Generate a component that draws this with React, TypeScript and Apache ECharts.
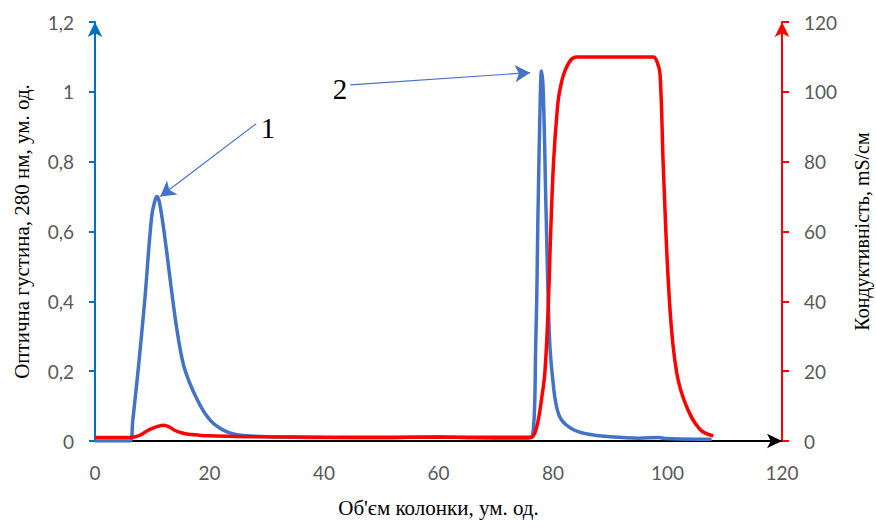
import React, { useEffect, useRef } from "react";
import * as echarts from "echarts";

// Column volume (x) and optical density at 280 nm (left axis)
const blueX = [0, 5, 6.1, 6.6, 7.0, 7.6, 8.7, 9.9, 10.5, 10.8, 11.3, 12.3, 13.3, 14.3, 15.4, 16.5, 17.8, 19, 20, 21, 22.4, 24, 26, 30, 40, 50, 60, 65, 70, 75, 76.3, 77.0, 77.4, 77.8, 78.0, 78.3, 78.8, 79.4, 80.0, 80.6, 81.5, 83.5, 86, 90, 95, 98.5, 99.5, 105, 107.7];
const blueY = [0, 0, 0, 0.06, 0.12, 0.214, 0.405, 0.643, 0.69, 0.7, 0.68, 0.57, 0.44, 0.32, 0.222, 0.168, 0.12, 0.084, 0.062, 0.046, 0.031, 0.021, 0.016, 0.012, 0.01, 0.009, 0.012, 0.009, 0.008, 0.008, 0.01, 0.29, 0.67, 1.0, 1.06, 1.0, 0.65, 0.29, 0.17, 0.1, 0.06, 0.033, 0.02, 0.012, 0.008, 0.01, 0.007, 0.005, 0.005];

// Column volume (x) and conductivity, mS/cm (right axis)
const redX = [0, 6, 7, 8, 9, 10, 11, 12, 13, 14, 15, 16, 18, 20, 25, 30, 40, 60, 76, 76.5, 77.3, 78.0, 78.6, 79.2, 79.6, 80.1, 80.7, 81.2, 82.4, 84.1, 90, 97.5, 98.2, 98.7, 99.3, 100.4, 101.6, 103.3, 105.7, 108];
const redY = [1, 1, 1.2, 1.8, 2.8, 3.6, 4.2, 4.5, 4.0, 3.0, 2.4, 2.0, 1.7, 1.5, 1.3, 1.2, 1.1, 1.1, 1.1, 1.3, 5, 12, 20, 40, 60, 80, 94, 100.5, 107.2, 110, 110, 110, 108.5, 105, 77, 38.6, 19.6, 10, 3.3, 1.5];

const xTicks = { min: 0, max: 120, interval: 20 };
const leftTicks = { min: 0, max: 1.2, interval: 0.2 };
const rightTicks = { min: 0, max: 120, interval: 20 };

const xTitle = "Об'єм колонки, ум. од.";
const leftTitle = "Оптична густина, 280 нм, ум. од.";
const rightTitle = "Кондуктивність, mS/см";

// Annotation anchors (data coords): label position, arrow start, arrow tip
const ann1 = { text: "1", label: [30.2, 0.895], start: [28.1, 0.908], tip: [11.4, 0.7] };
const ann2 = { text: "2", label: [42.8, 1.007], start: [44.6, 1.02], tip: [76.0, 1.055] };

const labelFont = { color: "#595959", fontSize: 19, fontFamily: "Lato" };
const titleFont = { color: "#000", fontSize: 21, fontFamily: "Liberation Serif" };

function zip(xs: number[], ys: number[]) {
  return xs.map((x, i) => [x, ys[i]]);
}

const fmtComma = (v: number) => String(parseFloat(v.toFixed(2))).replace(".", ",");

export default function App() {
  const ref = useRef<HTMLDivElement>(null);
  useEffect(() => {
    document.body.style.margin = "0";
    const chart = echarts.init(ref.current!, null, { renderer: "svg" });
    const annText = (a: any) => ({
      coord: a.label,
      symbol: "circle",
      symbolSize: 0,
      label: { show: true, position: "inside", formatter: a.text, color: "#000", fontSize: 29, fontFamily: "Liberation Serif" },
    });
    const annLine = (a: any) => [
      { coord: a.start, symbol: "none" },
      { coord: a.tip, symbol: "arrow", symbolSize: [13, 15] },
    ];
    chart.setOption({
      animation: false,
      grid: { left: 95, right: 94, top: 22, bottom: 81, containLabel: false, outerBoundsMode: "none" },
      xAxis: {
        type: "value",
        ...xTicks,
        axisLine: { show: true, onZero: false, lineStyle: { color: "#000", width: 2 }, symbol: ["none", "arrow"], symbolSize: [11, 15] },
        axisTick: { show: false },
        splitLine: { show: false },
        axisLabel: { ...labelFont, margin: 22 },
        name: xTitle,
        nameLocation: "middle",
        nameGap: 56,
        nameTextStyle: titleFont,
      },
      yAxis: [
        {
          type: "value",
          ...leftTicks,
          position: "left",
          axisLine: { show: true, lineStyle: { color: "#0070C0", width: 2 }, symbol: ["none", "arrow"], symbolSize: [11, 15] },
          axisTick: { show: true, inside: false, length: 6, lineStyle: { color: "#0070C0", width: 2 } },
          splitLine: { show: false },
          axisLabel: { ...labelFont, margin: 21, formatter: fmtComma },
          name: leftTitle,
          nameLocation: "middle",
          nameGap: 63,
          nameRotate: 90,
          nameTextStyle: titleFont,
        },
        {
          type: "value",
          ...rightTicks,
          position: "right",
          axisLine: { show: true, lineStyle: { color: "#FF0000", width: 2 }, symbol: ["none", "arrow"], symbolSize: [11, 15] },
          axisTick: { show: true, inside: false, length: 7, lineStyle: { color: "#FF0000", width: 2 } },
          splitLine: { show: false },
          axisLabel: { ...labelFont, margin: 22 },
          name: rightTitle,
          nameLocation: "middle",
          nameGap: 70,
          nameRotate: 90,
          nameTextStyle: { ...titleFont, fontSize: 20 },
        },
      ],
      series: [
        {
          type: "line",
          yAxisIndex: 0,
          data: zip(blueX, blueY),
          smooth: 0.4,
          showSymbol: false,
          lineStyle: { color: "#4472C4", width: 3.5 },
          z: 2,
          markLine: {
            silent: true,
            lineStyle: { color: "#4472C4", width: 1.2, type: "solid" },
            label: { show: false },
            data: [annLine(ann1), annLine(ann2)],
          },
          markPoint: { silent: true, data: [annText(ann1), annText(ann2)] },
        },
        {
          type: "line",
          yAxisIndex: 1,
          data: zip(redX, redY),
          smooth: 0.4,
          showSymbol: false,
          lineStyle: { color: "#FF0000", width: 3.5 },
          z: 3,
        },
      ],
    });
    return () => chart.dispose();
  }, []);
  return <div ref={ref} style={{ width: 876, height: 522 }} />;
}
